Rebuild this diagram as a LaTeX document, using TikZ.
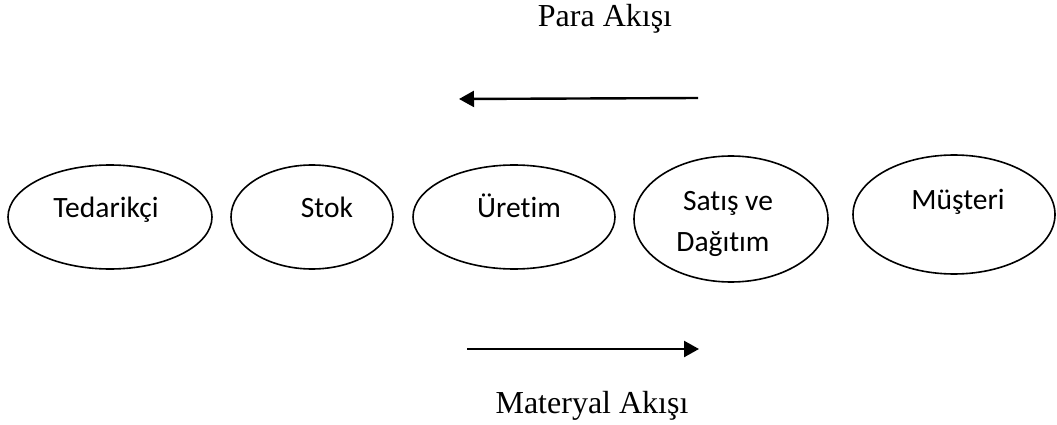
\documentclass[tikz,border=0pt]{standalone}
\usepackage{fontspec}
\setmainfont{Liberation Serif}
\newfontfamily\calib[Ligatures=NoCommon]{Carlito}
\usetikzlibrary{shapes.geometric,arrows.meta}
\begin{document}
\begin{tikzpicture}[x=1pt,y=-1pt,
  oval/.style={draw=black,line width=1.6pt,ellipse,inner sep=0pt},
  lbl/.style={font=\calib\fontsize{29.5}{34}\selectfont,anchor=base,inner sep=0pt},
  flowtext/.style={font=\fontsize{32}{38}\selectfont,anchor=base,inner sep=0pt},
  flow/.style={line width=2.4pt,-{Triangle[length=15pt,width=16pt]}}]
\useasboundingbox (0,0) rectangle (1057,425);
\node[oval,minimum width=204pt,minimum height=104pt] (ted) at (110,217) {};
\node[oval,minimum width=162pt,minimum height=104pt] (stok) at (312,217) {};
\node[oval,minimum width=202pt,minimum height=104pt] (ure) at (514,217) {};
\node[oval,minimum width=194pt,minimum height=126pt] (sat) at (731,219) {};
\node[oval,minimum width=202pt,minimum height=119pt] (mus) at (954,214.5) {};
\node[lbl] (tedt) at (106,217) {Tedarikçi};
\node[lbl] (stokt) at (327,217) {Stok};
\node[lbl] (uret) at (519,217) {Üretim};
\node[lbl] (satt1) at (728,210) {Satış ve};
\node[lbl] (satt2) at (723,251) {Dağıtım};
\node[lbl] (must) at (958,209) {Müşteri};
\node[flowtext] (para) at (605,27) {Para Akışı};
\node[flowtext] (mat) at (592,413) {Materyal Akışı};
\coordinate (p1) at (698,98);
\coordinate (p2) at (459,99);
\coordinate (m1) at (467,349);
\coordinate (m2) at (699,349);
\draw[flow] (p1) -- (p2);
\draw[flow] (m1) -- (m2);
\end{tikzpicture}
\end{document}
